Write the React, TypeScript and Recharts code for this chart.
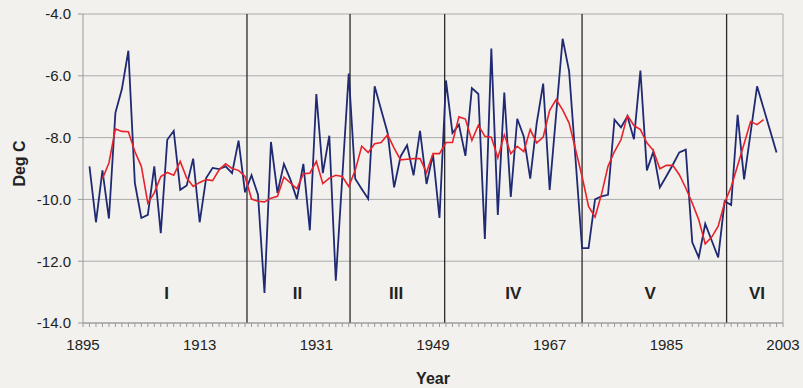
import { LineChart, Line, XAxis, YAxis, CartesianGrid, ReferenceLine, ReferenceDot, Label } from 'recharts'

const YEARS = [
  1896, 1897, 1898, 1899, 1900, 1901, 1902, 1903, 1904, 1905,
  1906, 1907, 1908, 1909, 1910, 1911, 1912, 1913, 1914, 1915,
  1916, 1917, 1918, 1919, 1920, 1921, 1922, 1923, 1924, 1925,
  1926, 1927, 1928, 1929, 1930, 1931, 1932, 1933, 1934, 1935,
  1936, 1937, 1938, 1939, 1940, 1941, 1942, 1943, 1944, 1945,
  1946, 1947, 1948, 1949, 1950, 1951, 1952, 1953, 1954, 1955,
  1956, 1957, 1958, 1959, 1960, 1961, 1962, 1963, 1964, 1965,
  1966, 1967, 1968, 1969, 1970, 1971, 1972, 1973, 1974, 1975,
  1976, 1977, 1978, 1979, 1980, 1981, 1982, 1983, 1984, 1985,
  1986, 1987, 1988, 1989, 1990, 1991, 1992, 1993, 1994, 1995,
  1996, 1997, 1998, 1999, 2000, 2001, 2002,
]

// annual mean temperature (blue)
const TEMPS = [
  -8.93, -10.74, -9.06, -10.62, -7.2, -6.43, -5.19, -9.47, -10.6, -10.5,
  -8.93, -11.09, -8.07, -7.78, -9.69, -9.55, -8.68, -10.74, -9.31, -8.98,
  -9.02, -8.93, -9.15, -8.1, -9.77, -9.22, -9.85, -13.03, -8.14, -9.79,
  -8.85, -9.36, -9.99, -8.85, -11.0, -6.59, -9.15, -7.94, -12.63, -9.3,
  -5.93, -9.33, -9.66, -9.98, -6.34, -7.1, -7.85, -9.61, -8.61, -8.25,
  -9.22, -7.78, -9.5, -8.55, -10.6, -6.15, -7.85, -7.58, -8.59, -6.4,
  -6.59, -11.28, -5.12, -10.5, -6.54, -9.92, -7.39, -7.96, -9.33, -7.53,
  -6.25, -9.69, -7.24, -4.8, -5.85, -8.72, -11.58, -11.58, -10.0, -9.9,
  -9.85, -7.42, -7.67, -7.31, -8.05, -5.83, -9.06, -8.45, -9.61, -9.25,
  -8.88, -8.48, -8.39, -11.39, -11.88, -10.79, -11.33, -11.88, -10.06, -10.18,
  -7.26, -9.35, -7.85, -6.34, -7.05, -7.76, -8.48,
]

// 5-year running mean (red)
const AVG = [
  null, null, -9.33, -8.82, -7.72, -7.8, -7.81, -8.45, -8.93, -10.12,
  -9.79, -9.26, -9.13, -9.22, -8.77, -9.31, -9.58, -9.45, -9.36, -9.39,
  -9.04, -8.85, -9.0, -9.06, -9.26, -9.99, -10.06, -10.08, -9.96, -9.9,
  -9.28, -9.47, -9.65, -9.17, -9.15, -8.77, -9.49, -9.31, -9.22, -9.26,
  -9.58, -9.06, -8.28, -8.48, -8.2, -8.16, -7.91, -8.34, -8.72, -8.7,
  -8.68, -8.68, -9.13, -8.52, -8.52, -8.16, -8.16, -7.33, -7.4, -8.09,
  -7.6, -7.96, -7.99, -8.66, -7.91, -8.52, -8.28, -8.45, -7.74, -8.17,
  -7.98, -7.12, -6.77, -7.1, -7.53, -8.39, -9.26, -10.23, -10.57, -9.83,
  -8.93, -8.45, -8.07, -7.28, -7.61, -7.74, -8.17, -8.42, -9.01, -8.9,
  -8.9, -9.2, -9.63, -10.12, -10.66, -11.44, -11.22, -10.87, -10.1, -9.6,
  -8.9, -8.2, -7.48, -7.58, -7.42, null, null,
]

const MAJOR_TICKS = [1895, 1913, 1931, 1949, 1967, 1985, 2003]
const Y_TICKS = [-14, -12, -10, -8, -6, -4]
const PERIOD_BREAKS = [1920.3, 1936.2, 1950.8, 1972.0, 1994.3]
const PERIOD_NAMES = ['I', 'II', 'III', 'IV', 'V', 'VI']
const PERIOD_LABEL_X = [1907.9, 1928.1, 1943.3, 1961.4, 1982.5, 1999.0]

// every year gets a small tick mark, only majors get a label
const ALL_TICKS: number[] = []
for (let y = 1895; y <= 2003; y++) ALL_TICKS.push(y)

const data = YEARS.map((year, i) => ({ year, temp: TEMPS[i], avg: AVG[i] }))

const FONT = '"Liberation Sans", Arial, sans-serif'

export default function App() {
  return (
    <div style={{ position: 'absolute', left: 0, top: 0, width: 803, height: 388, background: '#f2f1ee', fontFamily: FONT }}>
      <LineChart width={803} height={388} data={data} margin={{ top: 14, right: 20, left: 0, bottom: 0 }}>
        <CartesianGrid vertical={false} stroke="#aaaaaa" />
        <XAxis
          dataKey="year"
          type="number"
          domain={[1895, 2003]}
          ticks={ALL_TICKS}
          interval={0}
          tickFormatter={(v: number) => (MAJOR_TICKS.includes(v) ? String(v) : '')}
          height={65}
          tickSize={4}
          tickMargin={12}
          stroke="#9a9a9a"
          tick={{ fill: '#222', fontSize: 15, fontFamily: FONT }}
        >
          <Label
            content={({ viewBox }: any) => (
              <text x={viewBox.x + viewBox.width / 2} y={viewBox.y + 61} textAnchor="middle"
                fontSize={16} fontWeight="bold" fill="#222" fontFamily={FONT}>Year</text>
            )}
          />
        </XAxis>
        <YAxis
          type="number"
          domain={[-14, -4]}
          ticks={Y_TICKS}
          tickFormatter={(v: number) => v.toFixed(1)}
          width={83}
          tickSize={5}
          tickMargin={7}
          stroke="#9a9a9a"
          tick={{ fill: '#222', fontSize: 15, fontFamily: FONT }}
        >
          <Label
            content={({ viewBox }: any) => {
              const cx = 19
              const cy = viewBox.y + viewBox.height / 2 - 5
              return (
                <text x={cx} y={cy} transform={`rotate(-90 ${cx} ${cy})`} textAnchor="middle" dominantBaseline="central"
                  fontSize={16} fontWeight="bold" fill="#222" fontFamily={FONT}>Deg C</text>
              )
            }}
          />
        </YAxis>
        <ReferenceLine x={2003} stroke="#aaaaaa" />
        {PERIOD_BREAKS.map((x) => (
          <ReferenceLine key={x} x={x} stroke="#2a2a2a" strokeWidth={1.3} />
        ))}
        {PERIOD_NAMES.map((name, i) => (
          <ReferenceDot key={name} x={PERIOD_LABEL_X[i]} y={-13.02} r={0} fill="none" stroke="none"
            label={{ value: name, position: 'center', fontSize: 17, fontWeight: 'bold', fill: '#222', fontFamily: FONT }} />
        ))}
        <Line type="linear" dataKey="temp" stroke="#1f2a72" strokeWidth={1.8} dot={false} isAnimationActive={false} />
        <Line type="linear" dataKey="avg" stroke="#e8232b" strokeWidth={1.6} dot={false} isAnimationActive={false} />
      </LineChart>
    </div>
  )
}
